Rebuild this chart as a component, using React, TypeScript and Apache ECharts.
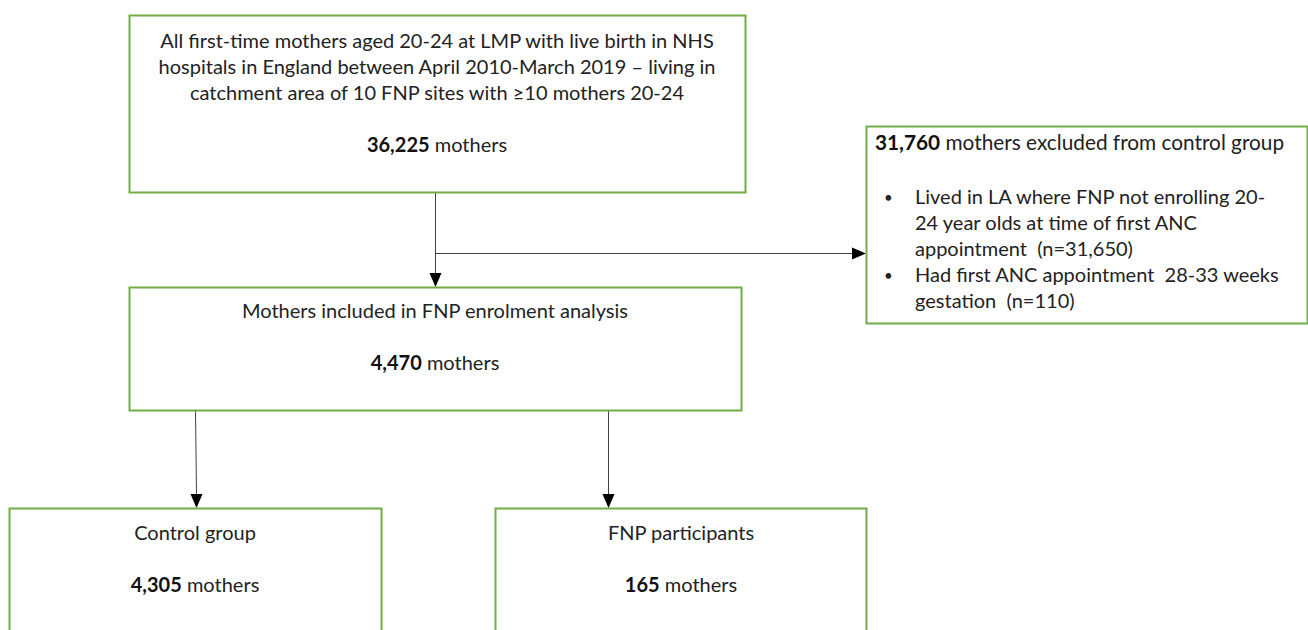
import React, { useEffect, useRef } from "react";
import * as echarts from "echarts";

// ---- Data ----
const totalMothers = "36,225";
const excludedMothers = "31,760";
const enrolmentMothers = "4,470";
const controlMothers = "4,305";
const fnpMothers = "165";
const topLines = [
  "All first-time mothers aged 20-24 at LMP with live birth in NHS",
  "hospitals in England between April 2010-March 2019 \u2013 living in",
  "catchment area of 10 FNP sites with \u226510 mothers 20-24",
];
const excludedTitle = "mothers excluded from control group";
const excludedBullets = [
  ["Lived in LA where FNP not enrolling 20-", "24 year olds at time of first ANC", "appointment  (n=31,650)"],
  ["Had first ANC appointment  28-33 weeks", "gestation  (n=110)"],
];
const enrolmentTitle = "Mothers included in FNP enrolment analysis";
const controlTitle = "Control group";
const fnpTitle = "FNP participants";
const unit = "mothers";

const GREEN = "#70AD47";
const FONT = "Lato, 'Open Sans', sans-serif";
const FS = 20;
const TXT = "#222222";

function box(x: number, y: number, w: number, h: number) {
  return {
    type: "rect",
    shape: { x: x + 0.5, y: y + 0.5, width: w, height: h },
    style: { fill: "#fff", stroke: GREEN, lineWidth: 2 },
  };
}
function txt(x: number, y: number, text: string, align = "center", fs = FS) {
  return {
    type: "text",
    x,
    y,
    style: {
      text,
      fill: TXT,
      fontSize: fs,
      fontFamily: FONT,
      fontWeight: "normal",
      align,
      verticalAlign: "middle",
      rich: {
        b: { fontWeight: "bold", fontSize: fs, fontFamily: FONT, fill: "#111" },
        n: { fontSize: fs, fontFamily: FONT, fill: TXT },
      },
    },
  };
}
function line(x1: number, y1: number, x2: number, y2: number) {
  return {
    type: "line",
    shape: { x1, y1, x2, y2 },
    style: { stroke: "#404040", lineWidth: 1 },
  };
}
function arrowDown(x: number, y: number) {
  return {
    type: "polygon",
    shape: { points: [[x - 6, y - 14], [x + 6, y - 14], [x, y]] },
    style: { fill: "#000" },
  };
}
function arrowRight(x: number, y: number) {
  return {
    type: "polygon",
    shape: { points: [[x - 14, y - 6], [x - 14, y + 6], [x, y]] },
    style: { fill: "#000" },
  };
}

export default function App() {
  const ref = useRef<HTMLDivElement>(null);
  useEffect(() => {
    document.body.style.margin = "0";
    const chart = echarts.init(ref.current!, null, { renderer: "svg" });
    const elements: any[] = [];
    // connectors
    elements.push(line(435.5, 192, 435.5, 274));
    elements.push(arrowDown(435.5, 287));
    elements.push(line(435.5, 253.5, 853, 253.5));
    elements.push(arrowRight(866, 253.5));
    elements.push(line(195.5, 410, 196.5, 495));
    elements.push(arrowDown(196.5, 508));
    elements.push(line(608.5, 410, 608.5, 495));
    elements.push(arrowDown(608.5, 508));
    // boxes
    elements.push(box(129, 15, 616, 177));
    elements.push(box(866, 126, 441, 197));
    elements.push(box(129, 287, 612, 123));
    elements.push(box(9, 508, 372, 130));
    elements.push(box(495, 508, 371, 130));
    // top box text
    topLines.forEach((t, i) => elements.push(txt(437, 40 + i * 26, t)));
    elements.push(txt(437, 144, `{b|${totalMothers}} {n|${unit}}`));
    // excluded box
    elements.push(txt(875, 141, `{b|${excludedMothers}} {n|${excludedTitle}}`, "left", 20.8));
    let ly = 196;
    excludedBullets.forEach((lines) => {
      elements.push(txt(884, ly + 1, "\u2022", "left", 15));
      lines.forEach((l) => {
        elements.push(txt(915, ly, l, "left"));
        ly += 26;
      });
    });
    // enrolment
    elements.push(txt(435, 310, enrolmentTitle));
    elements.push(txt(435, 362, `{b|${enrolmentMothers}} {n|${unit}}`));
    // control
    elements.push(txt(195, 532, controlTitle));
    elements.push(txt(195, 584, `{b|${controlMothers}} {n|${unit}}`));
    // fnp
    elements.push(txt(681, 532, fnpTitle));
    elements.push(txt(681, 584, `{b|${fnpMothers}} {n|${unit}}`));

    chart.setOption({ animation: false, graphic: { elements } });
    return () => chart.dispose();
  }, []);
  return <div ref={ref} style={{ width: 1308, height: 630 }} />;
}
